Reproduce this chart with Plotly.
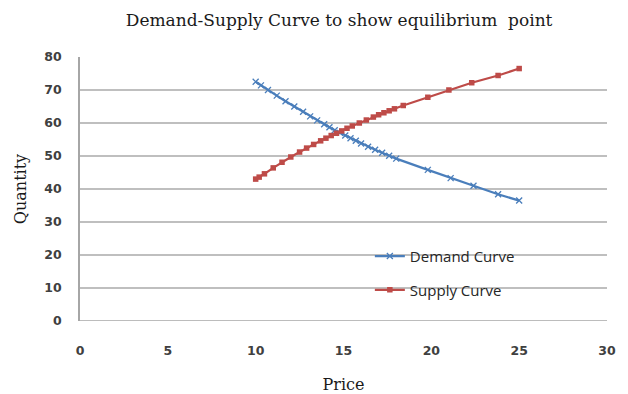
import plotly.graph_objects as go

# Demand curve: price vs quantity
demand_price = [10.0, 10.3, 10.7, 11.2, 11.7, 12.2, 12.7, 13.1, 13.5, 13.9, 14.2, 14.5,
                14.8, 15.1, 15.4, 15.7, 16.0, 16.4, 16.8, 17.2, 17.6, 18.0, 19.8, 21.1,
                22.4, 23.8, 25.0]
demand_qty = [72.5, 71.4, 70.0, 68.3, 66.6, 65.0, 63.4, 62.0, 60.8, 59.6, 58.7, 57.8,
              57.0, 56.2, 55.4, 54.6, 53.8, 52.8, 51.9, 51.0, 50.1, 49.2, 45.8, 43.3,
              41.0, 38.4, 36.5]

# Supply curve: price vs quantity
supply_price = [10.0, 10.2, 10.5, 11.0, 11.5, 12.0, 12.5, 12.9, 13.3, 13.7, 14.0, 14.3,
                14.6, 14.9, 15.2, 15.5, 15.9, 16.3, 16.7, 17.0, 17.3, 17.6, 17.9, 18.4,
                19.8, 21.0, 22.3, 23.8, 25.0]
supply_qty = [43.0, 43.6, 44.6, 46.4, 48.1, 49.7, 51.2, 52.4, 53.5, 54.6, 55.4, 56.2,
              56.9, 57.6, 58.4, 59.1, 60.0, 60.9, 61.8, 62.5, 63.1, 63.7, 64.3, 65.3,
              67.8, 70.0, 72.2, 74.4, 76.5]

x_ticks = [0, 5, 10, 15, 20, 25, 30]
y_ticks = [0, 10, 20, 30, 40, 50, 60, 70, 80]

BLUE = "#4a7ebb"
RED = "#be4b48"
serif = "DejaVu Serif, Liberation Serif, serif"
tick_font = dict(family="DejaVu Sans, sans-serif", size=12.5, color="#404040", weight="bold")

fig = go.Figure()
fig.add_trace(go.Scatter(
    x=demand_price, y=demand_qty, mode="lines+markers", name="Demand Curve",
    line=dict(color=BLUE, width=2.25),
    marker=dict(symbol="x-thin", size=6, line=dict(color=BLUE, width=1.3), color=BLUE),
    legend="legend",
))
fig.add_trace(go.Scatter(
    x=supply_price, y=supply_qty, mode="lines+markers", name="Supply Curve",
    line=dict(color=RED, width=2.25),
    marker=dict(symbol="square", size=5.5, color=RED),
    legend="legend2",
))

legend_style = dict(
    bgcolor="rgba(0,0,0,0)", borderwidth=0,
    font=dict(family="Open Sans, DejaVu Sans, sans-serif", size=15, color="#262626"),
    xanchor="left", yanchor="middle", itemwidth=30,
)

fig.update_layout(
    width=628, height=394,
    margin=dict(l=80, r=21, t=57, b=73),
    paper_bgcolor="white", plot_bgcolor="white",
    title=dict(text="Demand-Supply Curve to show equilibrium&nbsp; point",
               font=dict(family=serif, size=17, color="#1a1a1a"),
               x=0.54, xanchor="center", y=0.948, yanchor="middle", automargin=False),
    xaxis=dict(range=[0, 30], tickvals=x_ticks, showgrid=False, zeroline=False,
               showline=False, ticks="", ticklabelstandoff=20, automargin=False,
               tickfont=tick_font,
               title=dict(text="Price", font=dict(family=serif, size=16, color="#1a1a1a"),
                          standoff=24)),
    yaxis=dict(range=[0, 80], tickvals=y_ticks, showgrid=True, gridcolor="#bfbfbf",
               gridwidth=1.5, zeroline=False, showline=True, linecolor="#a6a6a6",
               linewidth=1.5, ticks="", ticklabelstandoff=14, automargin=False,
               tickfont=tick_font,
               title=dict(text="Quantity", font=dict(family=serif, size=16, color="#1a1a1a"),
                          standoff=14)),
    legend=dict(x=0.55, y=0.245, **legend_style),
    legend2=dict(x=0.55, y=0.117, **legend_style),
    showlegend=True,
)

# Baseline under the plot area
fig.add_shape(type="line", xref="paper", yref="y", x0=0, x1=1, y0=0, y1=0,
              line=dict(color="#a6a6a6", width=1.5), layer="below")

fig.write_html("out.html")
